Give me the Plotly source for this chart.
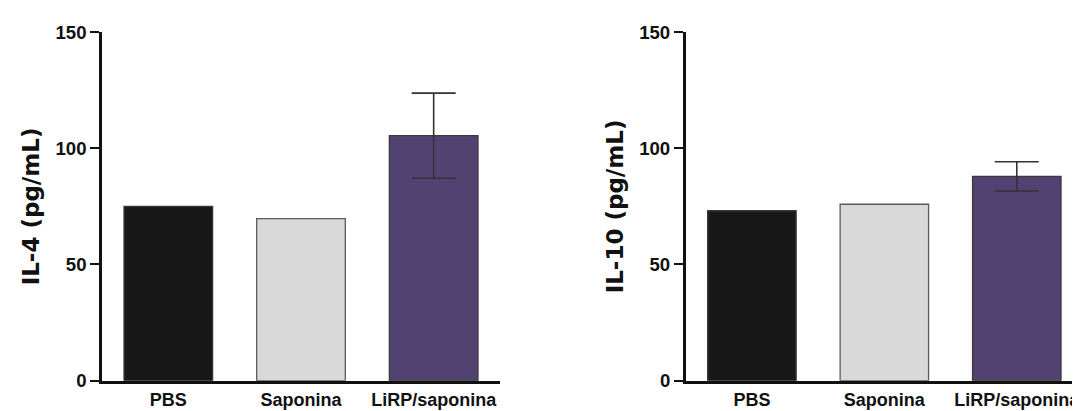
import plotly.graph_objects as go

categories = ["PBS", "Saponina", "LiRP/saponina"]
il4_values = [75.0, 69.7, 105.4]
il4_errors = [None, None, 18.3]
il10_values = [73.1, 75.9, 87.9]
il10_errors = [None, None, 6.3]
y_ticks = [0, 50, 100, 150]
y_title_left = "IL-4 (pg/mL)"
y_title_right = "IL-10 (pg/mL)"

bar_colors = ["#181818", "#d9d9d9", "#524272"]
bar_lines = ["#3a3a3a", "#5a5a5a", "#3a3a3a"]

W, H = 1080, 411
fig = go.Figure()

for i, (vals, errs) in enumerate([(il4_values, il4_errors), (il10_values, il10_errors)]):
    sfx = "" if i == 0 else "2"
    for cat, v, e, c, lc in zip(categories, vals, errs, bar_colors, bar_lines):
        err = dict(type="data", array=[e], visible=True, color="#333333",
                   thickness=1.6, width=22) if e is not None else dict(visible=False)
        fig.add_trace(go.Bar(
            x=[cat], y=[v], width=0.668,
            marker=dict(color=c, line=dict(color=lc, width=1.3)),
            error_y=err,
            xaxis="x" + sfx, yaxis="y" + sfx, showlegend=False,
        ))

tick_font = dict(family="Liberation Sans, Arial", size=18.6, color="#111111", weight="bold")
xtick_font = dict(family="Liberation Sans, Arial", size=18, color="#111111", weight="bold")

ydom = [(H - 372.7) / H, (H - 24) / H]
xdoms = [[94 / W, 492 / W], [677.7 / W, 1075 / W]]

for i, xd in enumerate(xdoms):
    sfx = "" if i == 0 else "2"
    fig.update_layout(**{
        "xaxis" + sfx: dict(domain=xd, range=[-0.5, 2.5], showline=True, linecolor="#111111",
                            linewidth=3, ticks="", showgrid=False, zeroline=False,
                            tickfont=xtick_font, tickangle=0, automargin=False,
                            ticklabelstandoff=1, anchor="y" + sfx, fixedrange=True,
                            categoryorder="array", categoryarray=categories),
        "yaxis" + sfx: dict(domain=ydom, range=[0, 150], tickvals=y_ticks, showline=True,
                            linecolor="#111111", linewidth=2.5, ticks="outside", ticklen=9,
                            tickwidth=2, tickcolor="#111111", showgrid=False, zeroline=False,
                            tickfont=tick_font, automargin=False, anchor="x" + sfx,
                            fixedrange=True),
    })

title_font = dict(family="DejaVu Sans", size=23, color="#111111", weight="bold")
for xpx, txt in [(23, y_title_left), (607, y_title_right)]:
    fig.add_annotation(text=txt, x=xpx / W, y=(ydom[0] + ydom[1]) / 2, xref="paper", yref="paper",
                       textangle=-90, showarrow=False, font=title_font,
                       xanchor="center", yanchor="middle")

fig.update_layout(width=W, height=H, margin=dict(l=0, r=0, t=0, b=0),
                  paper_bgcolor="white", plot_bgcolor="white", template="none",
                  barmode="overlay")

fig.write_html("out.html")
